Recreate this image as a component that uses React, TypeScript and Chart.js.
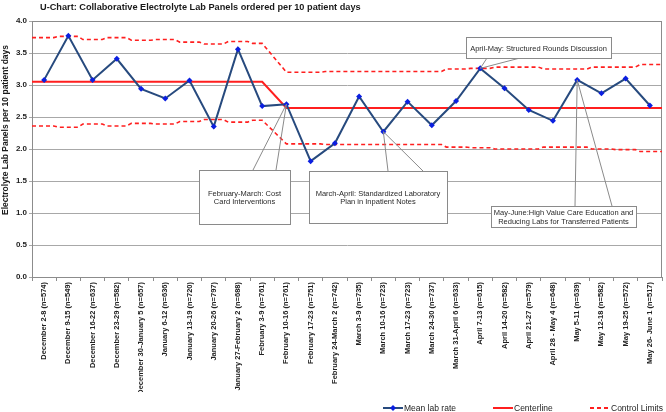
import React, { useEffect, useRef } from 'react';
import { Chart, registerables } from 'chart.js';

Chart.register(...registerables);

// ---------------- DATA ----------------
const chartTitle = 'U-Chart: Collaborative Electrolyte Lab Panels ordered per 10 patient days';
const yAxisTitle = 'Electrolyte Lab Panels per 10 patient days';

const categories = [
  'December 2-8 (n=574)',
  'December 9-15 (n=549)',
  'December 16-22 (n=637)',
  'December 23-29 (n=582)',
  'December 30-January 5 (n=657)',
  'January 6-12 (n=636)',
  'January 13-19 (n=720)',
  'January 20-26 (n=797)',
  'January 27-February 2 (n=688)',
  'February 3-9 (n=761)',
  'February 10-16 (n=761)',
  'February 17-23 (n=751)',
  'February 24-March 2 (n=742)',
  'March 3-9 (n=735)',
  'March 10-16 (n=723)',
  'March 17-23 (n=723)',
  'March 24-30 (n=737)',
  'March 31-April 6 (n=633)',
  'April 7-13 (n=615)',
  'April 14-20 (n=582)',
  'April 21-27 (n=579)',
  'April 28 - May 4 (n=648)',
  'May 5-11 (n=639)',
  'May 12-18 (n=582)',
  'May 19-25 (n=572)',
  'May 26- June 1 (n=517)',
];

const meanLabRate = [
  3.08, 3.77, 3.08, 3.41, 2.94, 2.79, 3.07, 2.35, 3.56, 2.67,
  2.70, 1.81, 2.09, 2.82, 2.27, 2.74, 2.37, 2.75, 3.26, 2.95,
  2.61, 2.44, 3.08, 2.87, 3.10, 2.68,
];

const centerline = [
  3.05, 3.05, 3.05, 3.05, 3.05, 3.05, 3.05, 3.05, 3.05, 3.05,
  2.64, 2.64, 2.64, 2.64, 2.64, 2.64, 2.64, 2.64, 2.64, 2.64,
  2.64, 2.64, 2.64, 2.64, 2.64, 2.64,
];

const upperControlLimit = [
  3.74, 3.76, 3.71, 3.74, 3.70, 3.71, 3.67, 3.64, 3.68, 3.65,
  3.20, 3.20, 3.21, 3.21, 3.21, 3.21, 3.21, 3.25, 3.26, 3.28,
  3.28, 3.25, 3.25, 3.28, 3.28, 3.32,
];

const lowerControlLimit = [
  2.36, 2.34, 2.39, 2.36, 2.40, 2.39, 2.43, 2.46, 2.42, 2.45,
  2.08, 2.08, 2.07, 2.07, 2.07, 2.07, 2.07, 2.03, 2.02, 2.00,
  2.00, 2.03, 2.03, 2.00, 1.99, 1.96,
];

const yTickLabels = ['0.0', '0.5', '1.0', '1.5', '2.0', '2.5', '3.0', '3.5', '4.0'];

const phaseBreakIndex = 10; // first week of the second phase

const annotations = [
  {
    anchor: 10,
    lines: ['February-March: Cost', 'Card Interventions'],
    box: { x: 199, y: 170, w: 91, h: 54 },
    leaders: [[253, 170], [276, 170]],
  },
  {
    anchor: 14,
    lines: ['March-April: Standardized Laboratory', 'Plan in Inpatient Notes'],
    box: { x: 309, y: 171, w: 138, h: 52 },
    leaders: [[388, 171], [423, 171]],
  },
  {
    anchor: 18,
    lines: ['April-May: Structured Rounds Discussion'],
    box: { x: 466, y: 37, w: 145, h: 21 },
    leaders: [[487, 58], [520, 58]],
  },
  {
    anchor: 22,
    lines: ['May-June:High Value Care Education and', 'Reducing Labs for Transferred Patients'],
    box: { x: 491, y: 206, w: 145, h: 21 },
    leaders: [[575, 206], [612, 206]],
  },
];

// ---------------- STYLE ----------------
const FONT = '"Liberation Sans", Arial, Helvetica, sans-serif';
const NAVY = '#274a7e';
const MARKER = '#0b1fe0';
const RED = '#ff1f1f';
const GRID = '#a8a8a8';

function stepPoints(vals: number[]) {
  const pts: { x: number; y: number }[] = [];
  vals.forEach((v, i) => {
    const left = i === 0 ? -0.5 : i === phaseBreakIndex ? i : i - 0.4;
    const right = i === vals.length - 1 ? vals.length - 0.5 : i === phaseBreakIndex - 1 ? i : i + 0.4;
    pts.push({ x: left, y: v }, { x: right, y: v });
  });
  return pts;
}

function centerPoints(vals: number[]) {
  const pts = vals.map((v, i) => ({ x: i, y: v }));
  return [{ x: -0.5, y: vals[0] }, ...pts, { x: vals.length - 0.5, y: vals[vals.length - 1] }];
}

const overlayPlugin = {
  id: 'overlay',
  beforeDatasetsDraw(chart: any) {
    const { ctx, chartArea: a } = chart;
    ctx.save();
    ctx.strokeStyle = '#8c8c8c';
    ctx.lineWidth = 1;
    ctx.strokeRect(a.left + 0.5, a.top + 0.5, a.right - a.left - 1, a.bottom - a.top);
    ctx.restore();
  },
  afterDatasetsDraw(chart: any) {
    const { ctx } = chart;
    const xs = chart.scales.x;
    const ys = chart.scales.y;
    ctx.save();
    annotations.forEach((an) => {
      const px = xs.getPixelForValue(an.anchor);
      const py = ys.getPixelForValue(meanLabRate[an.anchor]);
      ctx.strokeStyle = '#8a8a8a';
      ctx.lineWidth = 1;
      an.leaders.forEach(([lx, ly]) => {
        ctx.beginPath();
        ctx.moveTo(px, py);
        ctx.lineTo(lx, ly);
        ctx.stroke();
      });
      ctx.fillStyle = '#ffffff';
      ctx.fillRect(an.box.x, an.box.y, an.box.w, an.box.h);
      ctx.strokeRect(an.box.x + 0.5, an.box.y + 0.5, an.box.w, an.box.h);
      ctx.fillStyle = '#2a2a2a';
      ctx.font = `7.5px ${FONT}`;
      ctx.textAlign = 'center';
      ctx.textBaseline = 'middle';
      const lh = 8.5;
      const cy = an.box.y + an.box.h / 2 + 1;
      an.lines.forEach((t, k) => {
        ctx.fillText(t, an.box.x + an.box.w / 2, cy + (k - (an.lines.length - 1) / 2) * lh);
      });
    });
    ctx.restore();
  },
  afterDraw(chart: any) {
    const { ctx } = chart;
    ctx.save();
    // title
    ctx.fillStyle = '#1a1a1a';
    ctx.font = `bold 9.2px ${FONT}`;
    ctx.textAlign = 'left';
    ctx.textBaseline = 'middle';
    ctx.fillText(chartTitle, 40, 7);
    // y axis title
    ctx.save();
    ctx.translate(6, 130);
    ctx.rotate(-Math.PI / 2);
    ctx.font = `bold 8.5px ${FONT}`;
    ctx.textAlign = 'center';
    ctx.fillText(yAxisTitle, 0, 0);
    ctx.restore();
    // legend
    const ly = 408;
    ctx.font = `8.5px ${FONT}`;
    ctx.textBaseline = 'middle';
    ctx.textAlign = 'left';
    const items = chart.data.datasets.filter((d: any) => !d.hideInLegend);
    const xPos = [383, 493, 590];
    items.forEach((d: any, k: number) => {
      const x0 = xPos[k];
      ctx.save();
      ctx.strokeStyle = d.borderColor;
      ctx.lineWidth = 2;
      ctx.setLineDash(d.borderDash || []);
      ctx.beginPath();
      ctx.moveTo(x0, ly);
      ctx.lineTo(x0 + 20, ly);
      ctx.stroke();
      ctx.restore();
      if (d.pointRadius) {
        ctx.fillStyle = MARKER;
        ctx.beginPath();
        ctx.moveTo(x0 + 10, ly - 3);
        ctx.lineTo(x0 + 13, ly);
        ctx.lineTo(x0 + 10, ly + 3);
        ctx.lineTo(x0 + 7, ly);
        ctx.closePath();
        ctx.fill();
      }
      ctx.fillStyle = '#222';
      ctx.fillText(d.label, x0 + 21, ly + 0.5);
    });
    ctx.restore();
  },
};

export default function App() {
  const ref = useRef<HTMLCanvasElement>(null);
  useEffect(() => {
    if (!ref.current) return;
    const chart = new Chart(ref.current, {
      type: 'line',
      data: {
        labels: categories,
        datasets: [
          {
            label: 'Mean lab rate',
            data: meanLabRate,
            xAxisID: 'x',
            borderColor: NAVY,
            borderWidth: 2,
            pointStyle: 'rectRot',
            pointRadius: 3,
            pointBackgroundColor: MARKER,
            pointBorderColor: MARKER,
            pointBorderWidth: 0,
            tension: 0,
            order: 0,
          },
          {
            label: 'Centerline',
            data: centerPoints(centerline),
            xAxisID: 'x2',
            borderColor: RED,
            borderWidth: 2,
            pointRadius: 0,
            tension: 0,
            order: 1,
          },
          {
            label: 'Control Limits',
            data: stepPoints(upperControlLimit),
            xAxisID: 'x2',
            borderColor: RED,
            borderWidth: 1.6,
            borderDash: [4, 3],
            pointRadius: 0,
            tension: 0,
            order: 2,
          },
          {
            label: 'Lower Control Limit',
            hideInLegend: true,
            data: stepPoints(lowerControlLimit),
            xAxisID: 'x2',
            borderColor: RED,
            borderWidth: 1.6,
            borderDash: [4, 3],
            pointRadius: 0,
            tension: 0,
            order: 2,
          } as any,
        ],
      },
      options: {
        responsive: false,
        animation: false,
        devicePixelRatio: 1,
        layout: { padding: { top: 21, left: 0, right: 3, bottom: 20 } },
        plugins: {
          legend: { display: false },
          tooltip: { enabled: false },
          title: { display: false },
        },
        scales: {
          x: {
            type: 'category',
            offset: true,
            grid: {
              offset: true,
              drawOnChartArea: false,
              drawTicks: true,
              tickLength: 4,
              color: '#8c8c8c',
            },
            border: { display: true, color: '#8c8c8c' },
            ticks: {
              autoSkip: false,
              maxRotation: 90,
              minRotation: 90,
              padding: 1,
              color: '#222',
              font: { family: FONT, size: 7.5, weight: 'bold' },
            },
            afterFit: (s: any) => {
              s.height = 115;
            },
          },
          x2: {
            type: 'linear',
            display: false,
            min: -0.5,
            max: categories.length - 0.5,
          },
          y: {
            min: 0,
            max: 4,
            ticks: {
              stepSize: 0.5,
              padding: 2,
              color: '#222',
              font: { family: FONT, size: 8, weight: 'bold' },
              callback: (_v: any, i: number) => yTickLabels[i],
            },
            grid: { color: GRID, tickLength: 3, lineWidth: 1 },
            border: { display: true, color: '#8c8c8c' },
            afterFit: (s: any) => {
              s.width = 32;
            },
          },
        },
      },
      plugins: [overlayPlugin],
    } as any);
    return () => chart.destroy();
  }, []);
  return (
    <div style={{ position: 'fixed', left: 0, top: 0, width: 666, height: 412, background: '#fff' }}>
      <canvas ref={ref} width={666} height={412} style={{ display: 'block', width: 666, height: 412 }} />
    </div>
  );
}
